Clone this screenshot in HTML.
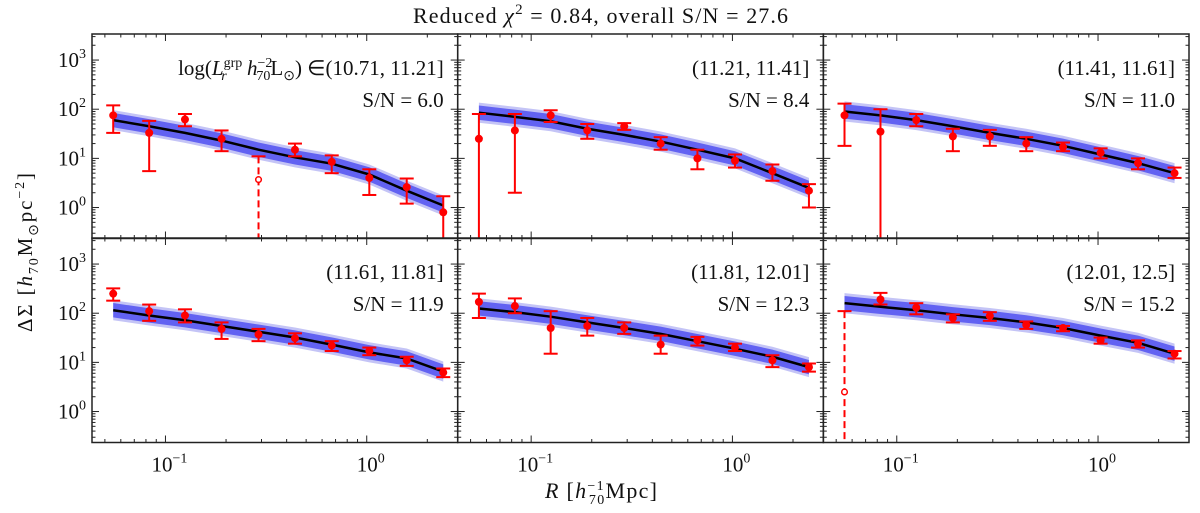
<!DOCTYPE html>
<html><head><meta charset="utf-8"><style>
body{margin:0;background:#fff;}
svg text{font-family:"Liberation Serif",serif;fill:#111;}
</style></head><body>
<svg id="c" width="1200" height="508" xmlns="http://www.w3.org/2000/svg">
<text x="413" y="23" font-size="22" textLength="375">Reduced <tspan font-style="italic">χ</tspan><tspan font-size="15" dy="-9">2</tspan><tspan dy="9"> = 0.84, overall S/N = 27.6</tspan></text>
<text x="545" y="498" font-size="22" textLength="112"><tspan font-style="italic">R</tspan> [<tspan font-style="italic">h</tspan><tspan font-size="14" dy="-8">−1</tspan><tspan font-size="14" dx="-16" dy="14">70</tspan><tspan dy="-6">Mpc]</tspan></text>
<text transform="translate(32,332) rotate(-90)" font-size="21" textLength="159">ΔΣ [<tspan font-style="italic">h</tspan><tspan font-size="14" dy="6">70</tspan><tspan dy="-6">M</tspan><tspan font-size="14" dy="6">⊙</tspan><tspan dy="-6">pc</tspan><tspan font-size="14" dy="-8">−2</tspan><tspan dy="8">]</tspan></text>
</svg>
<script>
const R=[0.055,0.083,0.125,0.19,0.29,0.44,0.67,1.03,1.58,2.4];
const labels=["(10.71, 11.21]","(11.21, 11.41]","(11.41, 11.61]","(11.61, 11.81]","(11.81, 12.01]","(12.01, 12.5]"];
const sn=["6.0","8.4","11.0","11.9","12.3","15.2"];
const val1=[75,33,62,25,3.7,15,8.5,4,2.6,0.8];
const hi1=[120,58,80,37,11,20,11.5,6,3.9,1.7];
const lo1=[33,5.5,45,14,0.01,11,5,1.8,1.2,0.01];
const mod1=[60,45,33,23,15,10.5,7.8,4.7,2.2,1.1];
const val2=[25,37,75,37,45,20,10,9,5.5,2.2];
const hi2=[80,80,95,50,52,27,15,12,7.5,3];
const lo2=[0.01,2,55,25,38,15,6,6.5,3.5,1];
const mod2=[85,70,57,40,30,22,15,10,5,2.5];
const val3=[75,35,60,28,28,20,17,13,8,5];
const hi3=[130,100,80,40,38,27,21,16,10,6.5];
const lo3=[18,0.01,45,14,18,14,14,10,6,4];
const mod3=[90,75,60,45,33,25,18,12,8,5];
const val4=[250,110,90,48,37,31,22,17,11,6.2];
const hi4=[320,150,120,65,48,39,27,20,13,7.5];
const lo4=[180,70,65,30,27,24,17,14,8.5,5];
const mod4=[115,90,72,55,42,32,23,16,12,6.5];
const val5=[170,140,50,55,50,23,28,20,11,8];
const hi5=[250,200,110,80,65,35,33,24,14,9.5];
const lo5=[80,100,15,35,38,15,22,17,8,6.5];
const mod5=[125,105,85,65,50,38,27,19,13,8];
const val6=[2.5,190,130,80,88,58,50,28,24,15];
const hi6=[110,260,160,95,105,68,55,32,28,17];
const lo6=[0.01,150,95,65,70,48,43,24,20,12];
const mod6=[160,135,115,95,80,65,50,35,25,15];
const openPts=[[4],[],[],[],[],[0]];
const P=[[val1,hi1,lo1,mod1],[val2,hi2,lo2,mod2],[val3,hi3,lo3,mod3],[val4,hi4,lo4,mod4],[val5,hi5,lo5,mod5],[val6,hi6,lo6,mod6]];
const NS="http://www.w3.org/2000/svg";
const svg=document.getElementById('c');
const X0=[92,457.7,823.3],W=365.7,Y0=[34,238],H=204.5;
const xmin=-1.365,xmax=0.452,ymin=-0.63,ymax=3.53;
function mk(t,a,p){const e=document.createElementNS(NS,t);for(const k in a)e.setAttribute(k,a[k]);(p||svg).appendChild(e);return e;}
for(let i=0;i<6;i++){
 const col=i%3,row=Math.floor(i/3),px=X0[col],py=Y0[row];
 const sx=v=>px+(Math.log10(v)-xmin)/(xmax-xmin)*W;
 const sy=v=>py+(ymax-Math.log10(v))/(ymax-ymin)*H;
 const g=mk('g',{});
 
 
 const cp=mk('clipPath',{id:'cp'+i},g);mk('rect',{x:px,y:py,width:W,height:H},cp);
 const pg=mk('g',{'clip-path':'url(#cp'+i+')'},g);
 const [v,hi,lo,m]=P[i];
 [[1.6,'#c4c4f6'],[1.4,'#6262f2']].forEach(([f,c],k)=>{
  let d='';R.forEach((r,j)=>{d+=(j?'L':'M')+sx(r)+','+sy(m[j]*f);});
  for(let j=R.length-1;j>=0;j--)d+='L'+sx(R[j])+','+sy(m[j]/f);
  const b=mk('path',{d:d+'Z',fill:c},pg);
  
  
 });
 let d='';R.forEach((r,j)=>{d+=(j?'L':'M')+sx(r)+','+sy(m[j]);});
 const ml=mk('path',{d:d,stroke:'#000','stroke-width':2.5,fill:'none'},pg);
 
 
 R.forEach((r,j)=>{
  const x=sx(r),open=openPts[i].includes(j);
  const eg=mk('g',{},pg);
  
  
  mk('line',{x1:x,x2:x,y1:sy(hi[j]),y2:sy(lo[j]),stroke:'#f00','stroke-width':2,'stroke-dasharray':open?'7,4':''},eg);
  [hi[j],lo[j]].forEach(y=>{if(y>0.02)mk('line',{x1:x-7,x2:x+7,y1:sy(y),y2:sy(y),stroke:'#f00','stroke-width':2},eg);});
  if(open)mk('circle',{cx:x,cy:sy(v[j]),r:2.8,fill:'#fff',stroke:'#f00','stroke-width':1.5},eg);
  else mk('circle',{cx:x,cy:sy(v[j]),r:4,fill:'#f00'},eg);
 });
 mk('rect',{x:px,y:py,width:W,height:H,fill:'none',stroke:'#222','stroke-width':1.5},g);
 for(let e=-2;e<=0;e++)for(let k=1;k<10;k++){const val=k*Math.pow(10,e),lv=Math.log10(val);if(lv<xmin||lv>xmax)continue;const x=sx(val),L=k==1?7:3.5;
  mk('line',{x1:x,x2:x,y1:py+H,y2:py+H-L,stroke:'#222'},g);mk('line',{x1:x,x2:x,y1:py,y2:py+L,stroke:'#222'},g);}
 for(let e=-1;e<=3;e++)for(let k=1;k<10;k++){const val=k*Math.pow(10,e),lv=Math.log10(val);if(lv<ymin||lv>ymax)continue;const y=sy(val),L=k==1?7:3.5;
  mk('line',{x1:px,x2:px+L,y1:y,y2:y,stroke:'#222'},g);mk('line',{x1:px+W,x2:px+W-L,y1:y,y2:y,stroke:'#222'},g);}
 if(col==0)[0,1,2,3].forEach(e=>{const t=mk('text',{x:px-6,y:sy(Math.pow(10,e))+7,'font-size':21,'text-anchor':'end'},g);t.innerHTML='10<tspan font-size="14" dy="-9">'+e+'</tspan>';});
 if(row==1)[-1,0].forEach(e=>{const t=mk('text',{x:sx(Math.pow(10,e))+4,y:py+H+29,'font-size':21,'text-anchor':'middle'},g);t.innerHTML='10<tspan font-size="14" dy="-9">'+(e<0?'−1':'0')+'</tspan>';});
 const lt=mk('text',{x:px+W-14,y:py+41,'font-size':21,'text-anchor':'end'},g);
 if(i==0)lt.innerHTML='log(<tspan font-style="italic">L</tspan><tspan font-size="14" dy="-8">grp</tspan><tspan font-size="14" font-style="italic" dx="-21" dy="13">r</tspan><tspan dx="15" dy="-5"> </tspan><tspan font-style="italic">h</tspan><tspan font-size="14" dy="-8">−2</tspan><tspan font-size="14" dx="-16" dy="13">70</tspan><tspan dy="-5">L</tspan><tspan font-size="14" dy="5">⊙</tspan><tspan dy="-5">) ∈'+labels[0]+'</tspan>';
 else lt.textContent=labels[i];
 
 
 const st=mk('text',{x:px+W-14,y:py+73,'font-size':21,'text-anchor':'end'},g);
 st.textContent='S/N = '+sn[i];
 
 
}
</script>
</body></html>
